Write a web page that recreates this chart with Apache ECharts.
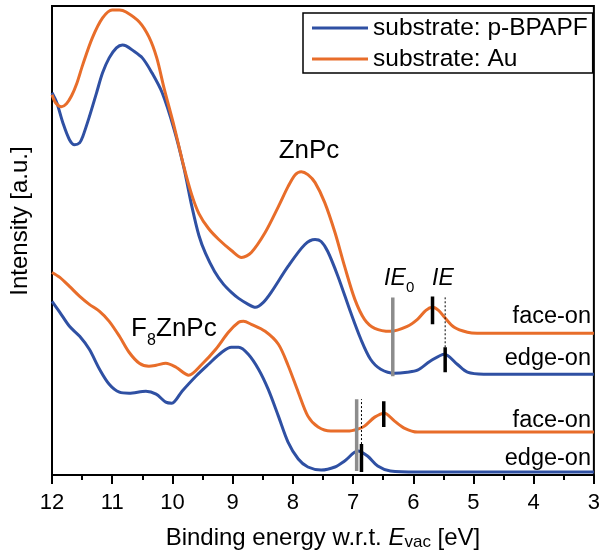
<!DOCTYPE html>
<html>
<head>
<meta charset="utf-8">
<script src="https://cdn.jsdelivr.net/npm/echarts@6/dist/echarts.min.js"></script>
<style>
  html, body { margin: 0; padding: 0; background: #fff; }
  #chart { width: 603px; height: 556px; }
</style>
</head>
<body>
<div id="chart"></div>
<script>
// Spectra: [binding energy (eV), intensity (a.u., stacked with offsets)]
const znpcBPAPF = [
  [12.00,383],[11.92,373],[11.82,353],[11.71,336],[11.625,331],[11.54,333],[11.49,339],
  [11.38,359],[11.26,383],[11.16,403],[11.05,418],[10.93,428],[10.83,431],[10.77,430],
  [10.67,426],[10.50,418],[10.34,403],[10.17,383],[9.97,346],[9.81,308],[9.68,270],
  [9.56,240],[9.45,222],[9.30,204],[9.15,191],[9.02,183],[8.90,177],[8.74,171],[8.62,168],
  [8.49,173],[8.36,183],[8.08,209],[7.80,231],[7.63,236],[7.53,234],[7.42,224],[7.25,199],
  [7.04,163],[6.87,136],[6.71,116],[6.54,106],[6.31,102],[6.10,103],[5.93,105],[5.72,114],
  [5.48,121],[5.27,111],[5.10,103],[4.83,101],[3.00,101]
];
const znpcAu = [
  [12.00,381],[11.94,373],[11.845,369],[11.76,372],[11.675,380],[11.59,392],[11.49,411],
  [11.33,438],[11.16,458],[11.00,466],[10.88,466],[10.77,464],[10.55,454],[10.39,439],
  [10.26,418],[10.14,388],[9.97,349],[9.81,309],[9.68,281],[9.56,262],[9.40,247],[9.23,236],
  [9.02,225],[8.85,218],[8.69,223],[8.46,243],[8.24,269],[8.08,289],[7.96,301],[7.86,304],
  [7.75,301],[7.63,293],[7.47,273],[7.30,243],[7.14,209],[6.97,176],[6.81,156],[6.64,147],
  [6.38,144],[6.10,149],[5.93,156],[5.79,165],[5.68,168],[5.58,165],[5.48,158],[5.32,148],
  [5.10,143],[4.94,142],[3.95,142],[3.00,142]
];
const f8znpcAu = [
  [12.00,203],[11.87,198],[11.71,189],[11.54,179],[11.38,171],[11.21,164],[11.05,154],
  [10.88,139],[10.72,123],[10.55,112],[10.39,109],[10.27,110],[10.11,112],[9.94,108],
  [9.73,100],[9.51,111],[9.28,126],[9.07,143],[8.90,153],[8.82,154],[8.69,151],[8.46,144],
  [8.24,131],[8.08,110],[7.91,83],[7.75,59],[7.58,48],[7.37,44],[7.09,44],[6.92,46],
  [6.81,49],[6.64,58],[6.48,62],[6.31,54],[6.15,47],[5.93,43],[3.00,43]
];
const f8znpcBPAPF = [
  [12.00,174],[11.87,163],[11.71,149],[11.54,139],[11.38,126],[11.21,106],[11.05,91],
  [10.88,83],[10.72,82],[10.44,84],[10.27,81],[10.11,73],[10.01,72],[9.84,84],[9.61,99],
  [9.40,111],[9.18,123],[9.02,128],[8.90,128],[8.74,121],[8.57,106],[8.41,86],[8.24,59],
  [8.08,33],[7.91,16],[7.75,8],[7.53,5],[7.30,8],[7.14,14],[6.92,24],[6.76,19],[6.59,9],
  [6.38,4],[5.93,3],[3.00,3]
];

// Onset markers: [energy, lower intensity, upper intensity]
const ie0Marks = [[6.34, 99, 178], [6.94, 4, 76]];
const ieMarks = [[5.68, 151, 179], [5.47, 103, 128], [6.49, 48, 74], [6.86, 3, 31]];
const ieGuides = [[5.47, 128, 178], [6.86, 31, 76]];

const xTicks = [3, 12, 1];          // min, max, step
const legendNames = ['substrate: p-BPAPF', 'substrate: Au'];

const BLUE = '#2f50a3';
const ORANGE = '#e86d2a';
const GRAY = '#8c8c8c';
const FONT = "'Liberation Sans', Arial, sans-serif";

function curve(name, data, color) {
  return {
    name, type: 'line', data, showSymbol: false, smooth: 0.3,
    lineStyle: { color, width: 3 }, itemStyle: { color },
    emphasis: { disabled: true }, silent: true, z: 2
  };
}
function segment(name, mark, color, width, type) {
  return {
    name, type: 'line', showSymbol: false, silent: true, z: 4,
    data: [[mark[0], mark[1]], [mark[0], mark[2]]],
    lineStyle: { color, width, type: type || 'solid', cap: 'butt' },
    itemStyle: { color }, emphasis: { disabled: true }
  };
}

const series = [
  curve(legendNames[0], znpcBPAPF, BLUE),
  curve(legendNames[1], znpcAu, ORANGE),
  curve(legendNames[0], f8znpcBPAPF, BLUE),
  curve(legendNames[1], f8znpcAu, ORANGE)
];
ie0Marks.forEach((m, i) => series.push(segment('IE0-' + i, m, GRAY, 3.5)));
ieGuides.forEach((m, i) => series.push(segment('guide-' + i, m, '#000', 1, [2, 2])));
ieMarks.forEach((m, i) => series.push(segment('IE-' + i, m, '#000', 3.5)));

const chart = echarts.init(document.getElementById('chart'), null, { renderer: 'canvas' });

function txt(x, y, text, size, opts) {
  return {
    type: 'text', x, y, silent: true, z: 10,
    style: Object.assign({
      text, fontSize: size, fontFamily: FONT, fill: '#000',
      align: 'left', verticalAlign: 'middle'
    }, opts || {})
  };
}

chart.setOption({
  animation: false,
  grid: { left: 52, right: 5, top: 6, bottom: 80, show: true, borderColor: '#000', borderWidth: 2 },
  legend: {
    data: legendNames, orient: 'vertical', left: 303, top: 13,
    icon: 'rect', itemWidth: 56, itemHeight: 3, itemGap: 5,
    padding: [2, 5, 1, 9], borderColor: '#000', borderWidth: 1.5, backgroundColor: '#fff',
    selectedMode: false,
    textStyle: { fontSize: 24.5, lineHeight: 26, fontFamily: FONT, color: '#000' }
  },
  xAxis: {
    type: 'value', inverse: true, min: xTicks[0], max: xTicks[1], interval: xTicks[2],
    axisLine: { lineStyle: { color: '#000', width: 2 } },
    axisTick: { inside: false, length: 9, lineStyle: { color: '#000', width: 2 } },
    minorTick: { show: true, splitNumber: 2, length: 5, lineStyle: { color: '#000', width: 2 } },
    splitLine: { show: false },
    axisLabel: { fontSize: 22, margin: 17, color: '#000', fontFamily: FONT },
    name: '{a|Binding energy w.r.t. }{i|E}{s|vac}{a| [eV]}',
    nameLocation: 'middle', nameGap: 50,
    nameTextStyle: {
      fontFamily: FONT, color: '#000',
      rich: {
        a: { fontSize: 24, lineHeight: 26, fontFamily: FONT, color: '#000' },
        i: { fontSize: 24, lineHeight: 26, fontStyle: 'italic', fontFamily: FONT, color: '#000' },
        s: { fontSize: 17, lineHeight: 1, verticalAlign: 'bottom', fontFamily: FONT, color: '#000' }
      }
    }
  },
  yAxis: {
    type: 'value', min: 0, max: 470,
    axisLine: { show: true, lineStyle: { color: '#000', width: 2 } },
    axisTick: { show: false }, axisLabel: { show: false }, splitLine: { show: false }
  },
  graphic: [
    txt(20, 221, 'Intensity [a.u.]', 24, { align: 'center' }),
    txt(309, 151, 'ZnPc', 26, { align: 'center' }),
    txt(131, 329, 'F', 26),
    txt(147, 341, '8', 16),
    txt(156, 329, 'ZnPc', 26),
    txt(384, 279, 'IE', 23, { fontStyle: 'italic' }),
    txt(406, 288, '0', 15),
    txt(432, 279, 'IE', 23, { fontStyle: 'italic' }),
    txt(591, 317, 'face-on', 23.5, { align: 'right' }),
    txt(591, 359, 'edge-on', 23.5, { align: 'right' }),
    txt(591, 421, 'face-on', 23.5, { align: 'right' }),
    txt(591, 459, 'edge-on', 23.5, { align: 'right' })
  ].map((g, i) => i === 0 ? Object.assign(g, { rotation: Math.PI / 2 }) : g),
  series
});
</script>
</body>
</html>
